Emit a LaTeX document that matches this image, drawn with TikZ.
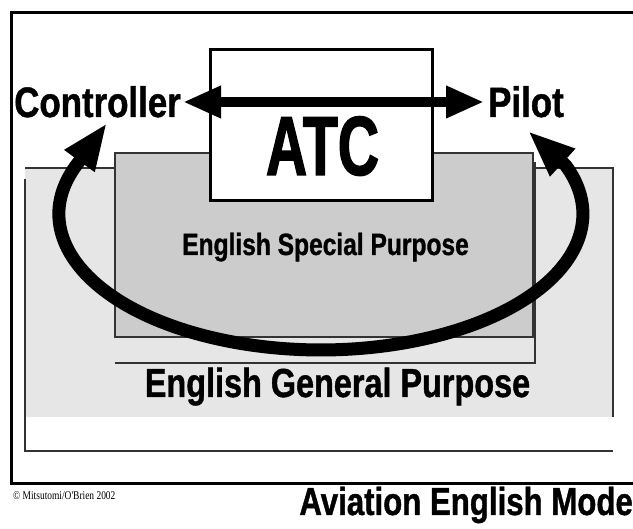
\documentclass[tikz,border=0pt]{standalone}
\usepackage{fontspec}
\usetikzlibrary{arrows.meta}
\newfontfamily\condfont{Liberation Sans}[FakeStretch=0.8,FakeBold=1]
\newfontfamily\widecondfont{Liberation Sans}[FakeStretch=0.82,FakeBold=1]
\newfontfamily\atcfont{Liberation Sans}[FakeStretch=0.68,FakeBold=1.5]
\newfontfamily\copyfont{Liberation Serif}[FakeStretch=0.8]
\definecolor{lightbg}{HTML}{E6E6E6}
\definecolor{midbg}{HTML}{CCCCCC}
\definecolor{edgegray}{HTML}{333333}
\begin{document}
\begin{tikzpicture}[x=1pt,y=1pt,
  thinedge/.style={draw=edgegray, line width=1.2pt},
  txt/.style={inner sep=0pt, text=black},
  bigcond/.style={txt, font=\widecondfont\bfseries\fontsize{42.5}{43}\selectfont},
  loopline/.style={line width=13pt, line join=round, {Triangle[length=47pt,width=34pt]}-{Triangle[length=47pt,width=34pt]}},
  dblarrow/.style={line width=10pt, {Triangle[length=38pt,width=30pt]}-{Triangle[length=38pt,width=30pt]}}
]
\useasboundingbox (0,0) rectangle (633,529);
\fill[white] (0,0) rectangle (633,529);

% outer frame (open on the right)
\draw[line width=3pt] (640,516) -- (11,516) -- (11,45.5) -- (640,45.5);

% English General Purpose area
\fill[lightbg] (25,112) rectangle (613,361);
\draw[thinedge] (25,361) -- (613,361) -- (613,112);
\draw[thinedge] (25,350) -- (25,78) -- (613,78);

% English Special Purpose area
\draw[thinedge] (535,367) -- (535,166) -- (115,166);
\draw[thinedge, fill=midbg] (115,192) rectangle (533,376);

% ATC box
\node[draw, line width=3pt, fill=white, minimum width=222pt, minimum height=151pt, inner sep=0pt] (atcbox) at (321.5,404) {};
\node[txt, font=\atcfont\bfseries\fontsize{84}{84}\selectfont, anchor=base] (atc) at (322.5,354) {ATC};

% labels
\node[bigcond, anchor=base east, inner xsep=2pt] (ctrl) at (183,412) {Controller};
\node[bigcond, anchor=base west, inner xsep=4pt] (pilot) at (484,412) {Pilot};
\node[txt, font=\condfont\bfseries\fontsize{30.7}{31}\selectfont, anchor=base] (esp) at (325.5,274) {English Special Purpose};
\node[txt, font=\condfont\bfseries\fontsize{40.5}{41}\selectfont, anchor=base] (egp) at (337.5,132) {English General Purpose};

% loop
\coordinate (lt) at (107,406);
\coordinate (lb) at (78,366);
\coordinate (rt) at (528,398);
\draw[loopline] (lt) -- (lb) arc[start angle=158, end angle=381, x radius=262, y radius=136] -- (rt);

% double arrow
\coordinate (arrowy) at (0,427);
\draw[dblarrow] (ctrl.east |- arrowy) -- (pilot.west |- arrowy);

% bottom texts
\node[txt, font=\copyfont\fontsize{11.8}{12}\selectfont, anchor=base west] (copy) at (13,29) {© Mitsutomi/O'Brien 2002};
\node[txt, font=\condfont\bfseries\fontsize{39}{39}\selectfont, anchor=base east] (title) at (633,14) {Aviation English Mode};
\end{tikzpicture}
\end{document}
